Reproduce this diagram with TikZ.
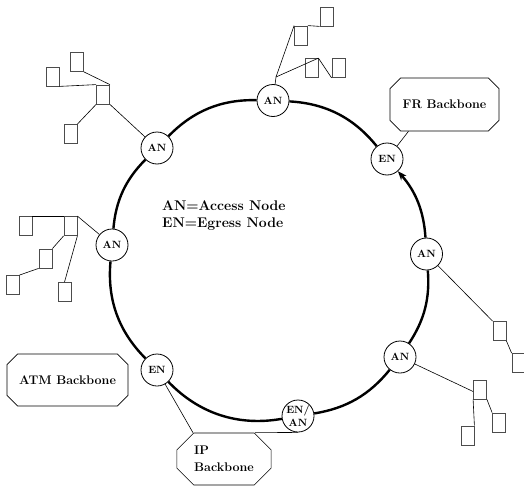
\documentclass[tikz,border=0pt]{standalone}
\usetikzlibrary{shapes.misc,arrows.meta}
\begin{document}
\begin{tikzpicture}[x=1pt,y=-1pt,
    nd/.style={circle,draw,fill=white,line width=0.8pt,minimum size=32pt,inner sep=0pt,align=center,font=\bfseries\fontsize{10.5}{12.5}\selectfont},
    term/.style={rectangle,draw=black!70,line width=0.8pt,minimum width=13pt,minimum height=19pt,inner sep=0pt},
    backbone/.style={chamfered rectangle,chamfered rectangle xsep=14pt,draw,line width=0.6pt,align=left,font=\bfseries\fontsize{12.5}{17}\selectfont},
    ring/.style={line width=2.4pt,looseness=0.95},
    link/.style={line width=0.6pt}]

    \useasboundingbox (0,0) rectangle (524,487);
    \clip (0,0) rectangle (524,487);

    \node[nd] (anT) at (273,100.5) {AN};
    \node[nd] (enFR) at (387,159) {EN};
    \node[nd] (anR) at (426.5,254) {AN};
    \node[nd] (anLR) at (400,357) {AN};
    \node[nd] (enan) at (298,416) {EN/\\AN};
    \node[nd] (enIP) at (157,370) {EN};
    \node[nd] (anL) at (112,245) {AN};
    \node[nd] (anUL) at (157,148) {AN};

    \draw[ring] (anT) to[bend left=24] (enFR);
    \draw[ring,-{Stealth[length=9pt,width=7pt]}] (anR) to[bend right=19] (enFR);
    \draw[ring] (anR) to[bend left=19] (anLR);
    \draw[ring] (anLR) to[bend left=21] (enan);
    \draw[ring] (enan) to[bend left=28] (enIP);
    \draw[ring] (enIP) to[bend left=25] (anL);
    \draw[ring] (anL) to[bend left=20] (anUL);
    \draw[ring] (anUL) to[bend left=23.5] (anT);

    \node[anchor=west,inner sep=0pt,align=left,font=\bfseries\fontsize{14}{17}\selectfont] (legend) at (162,216) {AN=Access Node\\EN=Egress Node};

    \node[backbone,minimum width=109pt,minimum height=53pt] (fr) at (444.5,104.5) {FR Backbone};
    \node[backbone,minimum width=121pt,minimum height=52pt] (atm) at (67.5,380) {ATM Backbone};
    \node[backbone,minimum width=90pt,minimum height=52pt] (ip) at (224,459) {IP\\Backbone};

    \draw[link] (enFR) -- ([xshift=-36pt]fr.south);
    \draw[link] (enIP) -- ([xshift=-31pt]ip.north);
    \draw[link] (enan.south) -- ([xshift=31pt]ip.north);

    \node[term] (ulH) at (103,94.5) {};
    \node[term] (ulT) at (77,62) {};
    \node[term] (ulL) at (52.5,76.5) {};
    \node[term] (ulB) at (70.5,134) {};
    \draw[link] (anUL) -- (ulH.south east);
    \draw[link] (ulT.south east) -- (ulH.north east);
    \draw[link] (ulL.south east) -- (ulH.north west);
    \draw[link] (ulB.north east) -- (ulH.south west);

    \node[term] (lH) at (70.5,226) {};
    \node[term] (lT) at (25.5,226) {};
    \node[term] (lM) at (45.5,258.5) {};
    \node[term] (lBL) at (12.5,285) {};
    \node[term] (lB) at (64.5,292) {};
    \draw[link] (lT.north east) -- (lH.north west);
    \draw[link] (lH.north east) -- (anL);
    \draw[link] (lH.south west) -- (lM.north east);
    \draw[link] (lM.south west) -- (lBL.north east);
    \draw[link] (lH.south east) -- (lB.north);

    \coordinate (tJ) at (276,77);
    \node[term] (tA) at (301,35.5) {};
    \node[term] (tB) at (326.5,16.5) {};
    \node[term] (tC) at (311.5,68) {};
    \node[term] (tD) at (338.5,68) {};
    \draw[link] (anT) -- (tJ);
    \draw[link] (tJ) -- (tA.north west);
    \draw[link] (tA.north east) -- (tB.south west);
    \draw[link] (tJ) -- (tC.north east);
    \draw[link] (tC.north east) -- (tD.south west);

    \node[term] (rE) at (499.5,331) {};
    \node[term] (rF) at (518.5,363) {};
    \draw[link] (anR) -- (rE.north west);
    \draw[link] (rE.south east) -- (rF.north west);

    \node[term] (lrG) at (480,389.5) {};
    \node[term] (lrH) at (499,422.5) {};
    \node[term] (lrI) at (467.5,435.5) {};
    \draw[link] (anLR) -- ([yshift=-2pt]lrG.west);
    \draw[link] (lrG.south west) -- (lrI.north east);
    \draw[link] (lrG.south east) -- (lrH.north west);
\end{tikzpicture}
\end{document}
